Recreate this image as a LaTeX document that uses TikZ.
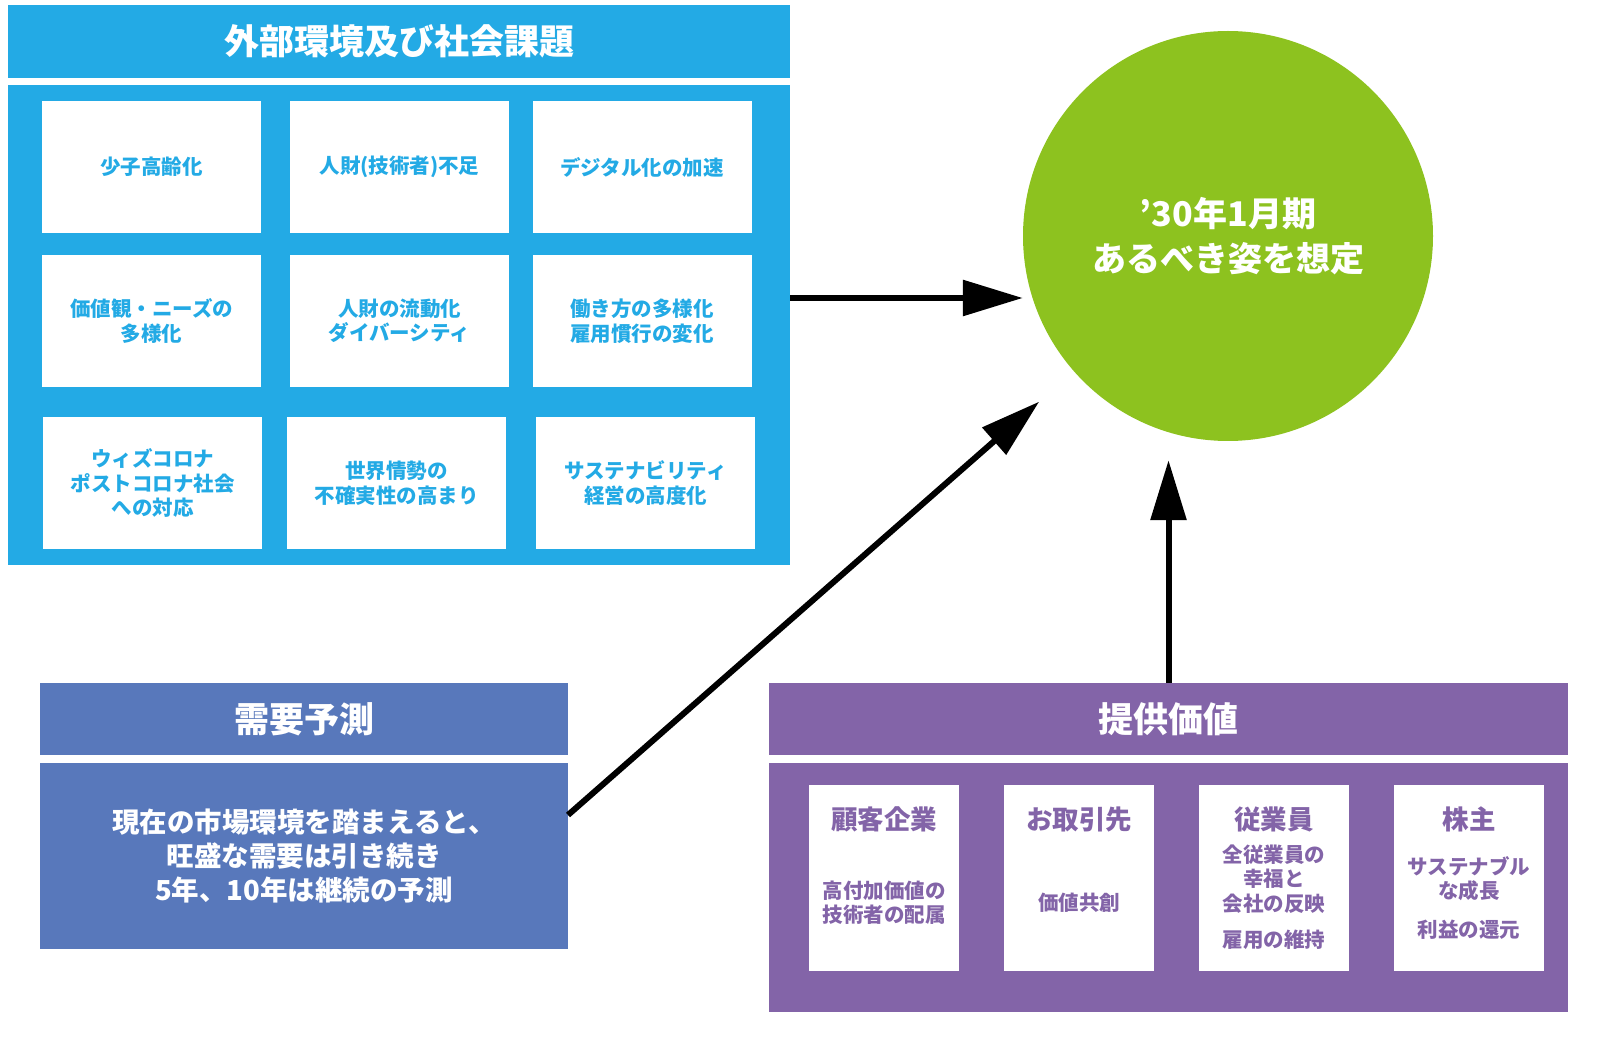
\documentclass[tikz,border=0pt]{standalone}
\usepackage{fontspec}
\setmainfont{Noto Sans CJK JP}
\usepackage{tikz}
\usetikzlibrary{arrows.meta}
\definecolor{envblue}{RGB}{35,170,229}
\definecolor{demblue}{RGB}{88,120,187}
\definecolor{valpurple}{RGB}{131,100,168}
\definecolor{goalgreen}{RGB}{141,194,31}
\tikzset{
	band/.style={rectangle, inner sep=0pt, outer sep=0pt, text=white, align=center},
	envtile/.style={rectangle, fill=white, inner sep=0pt, minimum width=219pt, minimum height=132pt, text=envblue, align=center, font=\fontsize{20.5}{24.5}\selectfont\bfseries},
	valtile/.style={rectangle, fill=white, inner sep=0pt, minimum width=150pt, minimum height=186pt},
	valtitle/.style={text=valpurple, font=\fontsize{26.5}{30}\selectfont\bfseries},
	valtext/.style={text=valpurple, align=center, font=\fontsize{20.5}{24.5}\selectfont\bfseries},
	bigarrow/.style={line width=6pt, -{Triangle[length=60pt,width=35pt]}}
}

\begin{document}
\begin{tikzpicture}[x=1pt, y=-1pt]
			%%%%% START %%%%%
			\useasboundingbox (0, 0) rectangle (1623, 1048);
			
			\node[band, fill=envblue, minimum width=782pt, minimum height=73pt, font=\fontsize{35}{40}\selectfont\bfseries] (envhead) at (399, 41.5) {外部環境及び社会課題};
			\node[band, fill=envblue, minimum width=782pt, minimum height=480pt] (envbody) at (399, 325) {};
			
			\node[envtile] (aging) at (151.5, 167) {少子高齢化};
			\node[envtile] (shortage) at (399.5, 167) {人財(技術者)不足};
			\node[envtile] (digital) at (642, 167) {デジタル化の加速};
			
			\node[envtile] (values) at (151.5, 321) {価値観・ニーズの\\多様化};
			\node[envtile] (mobility) at (399.5, 321) {人財の流動化\\ダイバーシティ};
			\node[envtile] (workstyle) at (642, 321) {働き方の多様化\\雇用慣行の変化};
			
			\node[envtile] (corona) at (152.5, 483) {ウィズコロナ\\ポストコロナ社会\\への対応};
			\node[envtile] (world) at (396.5, 483) {世界情勢の\\不確実性の高まり};
			\node[envtile] (sustain) at (645.5, 483) {サステナビリティ\\経営の高度化};
			
			\node[circle, fill=goalgreen, minimum size=410pt, inner sep=0pt, text=white, align=center, font=\fontsize{34}{45}\selectfont\bfseries] (goal) at (1228, 236) {’30年1月期\\あるべき姿を想定};
			
			\node[band, fill=demblue, minimum width=528pt, minimum height=72pt, font=\fontsize{35}{40}\selectfont\bfseries] (demhead) at (304, 719) {需要予測};
			\node[band, fill=demblue, minimum width=528pt, minimum height=186pt, font=\fontsize{27.5}{34}\selectfont\bfseries] (dembody) at (304, 856) {現在の市場環境を踏まえると、\\旺盛な需要は引き続き\\5年、10年は継続の予測};
			
			\node[band, fill=valpurple, minimum width=799pt, minimum height=72pt, font=\fontsize{35}{40}\selectfont\bfseries] (valhead) at (1168.5, 719) {提供価値};
			\node[band, fill=valpurple, minimum width=799pt, minimum height=249pt] (valbody) at (1168.5, 887.5) {};
			
			\node[valtile] (client) at (884, 878) {};
			\node[valtile] (partner) at (1079, 878) {};
			\node[valtile] (staff) at (1274, 878) {};
			\node[valtile] (holder) at (1469, 878) {};
			
			\node[valtitle] (clienthd) at (884, 819) {顧客企業};
			\node[valtitle] (partnerhd) at (1079, 819) {お取引先};
			\node[valtitle] (staffhd) at (1274, 819) {従業員};
			\node[valtitle] (holderhd) at (1469, 819) {株主};
			
			\node[valtext] (clienttx) at (884, 902.5) {高付加価値の\\技術者の配属};
			\node[valtext] (partnertx) at (1079, 903) {価値共創};
			\node[valtext] (stafftx) at (1274, 897) {全従業員の\\幸福と\\会社の反映\\[12pt]雇用の維持};
			\node[valtext] (holdertx) at (1469, 897.5) {サステナブル\\な成長\\[14pt]利益の還元};
			
			\coordinate (envout) at (790, 298);
			\coordinate (demout) at (568, 815);
			
			\draw[bigarrow] (envout) -- (envout -| goal.west);
			\draw[bigarrow, shorten >=46pt] (demout) -- (goal);
			\draw[bigarrow, shorten >=19pt] (valhead.north) -- (valhead.north |- goal.south);
			
			%%%%% END %%%%%
		\end{tikzpicture}
\end{document}
